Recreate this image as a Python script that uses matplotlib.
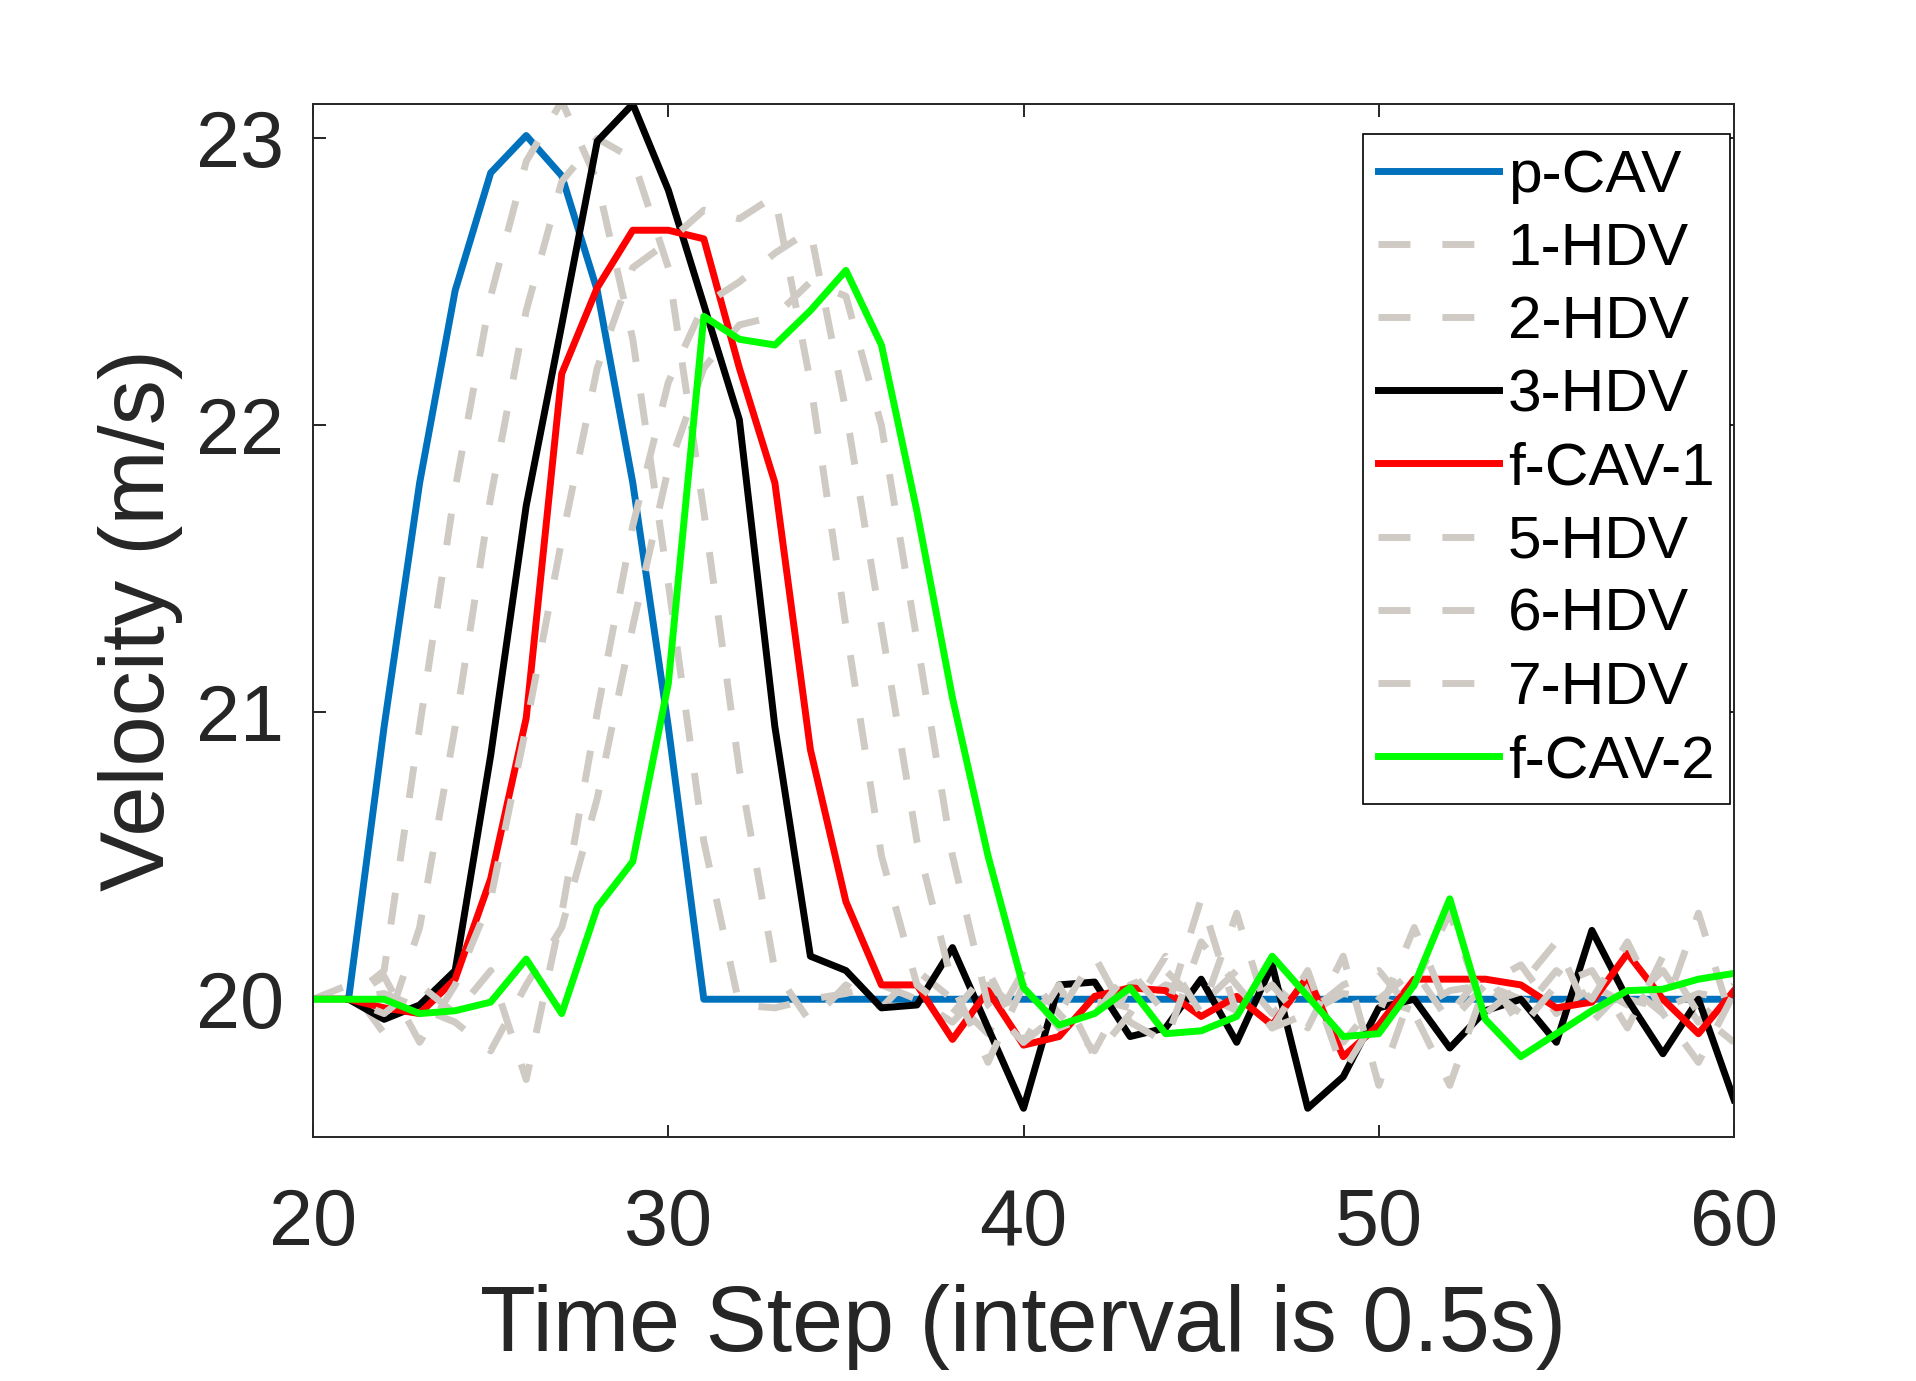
import numpy as np
import matplotlib
matplotlib.use("Agg")
import matplotlib.pyplot as plt

plt.rcParams['font.family'] = ['Liberation Sans', 'DejaVu Sans']
plt.rcParams['lines.scale_dashes'] = False

# time steps 20..60
steps = list(range(20, 61))

p_cav = [20.00, 20.00, 20.95, 21.80, 22.47, 22.88, 23.01, 22.87, 22.47, 21.80, 20.95, 20.00,
         20.00, 20.00, 20.00, 20.00, 20.00, 20.00, 20.00, 20.00, 20.00, 20.00, 20.00, 20.00,
         20.00, 20.00, 20.00, 20.00, 20.00, 20.00, 20.00, 20.00, 20.00, 20.00, 20.00, 20.00,
         20.00, 20.00, 20.00, 20.00, 20.00]

hdv_1 = [20.00, 20.00, 20.10, 20.95, 21.78, 22.45, 22.92, 23.13, 22.85, 22.30, 21.45, 20.55,
         19.98, 19.97, 20.00, 20.02, 20.05, 20.00, 19.92, 20.05, 19.95, 20.02, 20.00, 19.97,
         20.05, 20.02, 19.96, 20.05, 19.95, 20.02, 20.00, 19.96, 20.03, 20.05, 20.00, 19.96,
         20.04, 20.00, 19.97, 20.02, 20.00]

hdv_2 = [20.00, 20.05, 19.88, 20.25, 20.95, 21.75, 22.40, 22.85, 23.00, 22.93, 22.55, 21.70,
         20.80, 20.10, 19.92, 20.05, 19.97, 20.10, 20.00, 19.88, 20.10, 19.95, 19.82, 20.05,
         20.10, 19.98, 20.10, 19.95, 20.05, 19.85, 20.00, 20.10, 19.92, 20.05, 20.12, 19.95,
         20.05, 19.98, 20.10, 19.92, 20.05]

hdv_3 = [20.00, 20.00, 19.93, 19.98, 20.10, 20.85, 21.72, 22.35, 22.99, 23.12, 22.82, 22.42,
         22.02, 20.95, 20.15, 20.10, 19.97, 19.98, 20.18, 19.90, 19.62, 20.05, 20.06, 19.87,
         19.90, 20.07, 19.85, 20.12, 19.62, 19.73, 19.97, 20.00, 19.83, 19.96, 20.00, 19.85,
         20.24, 20.00, 19.81, 20.00, 19.65]

f_cav_1 = [20.00, 20.00, 19.97, 19.95, 20.07, 20.42, 20.98, 22.18, 22.48, 22.68, 22.68, 22.65,
           22.20, 21.80, 20.87, 20.34, 20.05, 20.05, 19.86, 20.03, 19.84, 19.87, 20.01, 20.04,
           20.03, 19.94, 20.01, 19.91, 20.08, 19.80, 19.91, 20.07, 20.07, 20.07, 20.05, 19.97,
           19.99, 20.16, 20.00, 19.88, 20.03]

hdv_5 = [20.00, 20.00, 20.08, 19.85, 20.05, 20.35, 20.95, 21.60, 22.20, 22.55, 22.64, 22.75,
         22.72, 22.80, 22.15, 21.30, 20.50, 20.05, 19.95, 20.10, 19.85, 19.95, 20.15, 19.92,
         19.85, 20.20, 20.05, 19.90, 20.10, 19.75, 19.95, 20.25, 19.95, 20.10, 19.90, 20.05,
         20.10, 19.90, 20.15, 19.95, 19.85]

hdv_6 = [20.00, 20.00, 19.95, 20.05, 19.95, 20.10, 19.72, 20.30, 21.00, 21.65, 22.15, 22.42,
         22.50, 22.60, 22.68, 22.05, 21.30, 20.55, 20.05, 19.78, 20.05, 19.90, 19.95, 20.10,
         19.95, 20.35, 19.95, 20.05, 19.90, 20.15, 19.70, 20.05, 20.30, 19.95, 20.05, 20.20,
         19.92, 20.05, 19.95, 20.30, 19.90]

hdv_7 = [20.00, 20.00, 20.02, 19.97, 19.92, 19.82, 20.05, 20.25, 20.70, 21.30, 21.85, 22.20,
         22.35, 22.38, 22.50, 22.45, 22.00, 21.25, 20.50, 19.98, 19.85, 20.05, 19.80, 19.95,
         20.15, 19.95, 20.30, 19.90, 19.95, 20.05, 20.10, 19.95, 19.70, 20.05, 19.95, 20.10,
         20.00, 20.20, 19.95, 19.78, 20.02]

f_cav_2 = [20.00, 20.00, 20.00, 19.95, 19.96, 19.99, 20.14, 19.95, 20.32, 20.48, 21.10, 22.38,
           22.30, 22.28, 22.40, 22.54, 22.28, 21.70, 21.05, 20.50, 20.04, 19.91, 19.95, 20.04,
           19.88, 19.89, 19.94, 20.15, 20.01, 19.87, 19.88, 20.05, 20.35, 19.93, 19.80, 19.88,
           19.96, 20.03, 20.035, 20.07, 20.09]

series = [
    ("p-CAV", p_cav, "#0072BD", "solid"),
    ("1-HDV", hdv_1, "#CFCBC4", "dash"),
    ("2-HDV", hdv_2, "#CFCBC4", "dash"),
    ("3-HDV", hdv_3, "#000000", "solid"),
    ("f-CAV-1", f_cav_1, "#FF0000", "solid"),
    ("5-HDV", hdv_5, "#CFCBC4", "dash"),
    ("6-HDV", hdv_6, "#CFCBC4", "dash"),
    ("7-HDV", hdv_7, "#CFCBC4", "dash"),
    ("f-CAV-2", f_cav_2, "#00FF00", "solid"),
]

fig = plt.figure(figsize=(19.16, 13.81), dpi=100)
ax = fig.add_axes([0.1634, 0.1767, 0.7416, 0.748])

for name, vals, col, style in series:
    if style == "dash":
        ax.plot(steps, vals, color=col, lw=5, dashes=(23, 23), label=name)
    else:
        ax.plot(steps, vals, color=col, lw=5, label=name)

ax.set_xlim(20, 60)
ax.set_ylim(19.52, 23.12)
ax.set_xticks([20, 30, 40, 50, 60])
ax.set_yticks([20, 21, 22, 23])

ax.tick_params(axis='both', direction='in', length=9, width=1.4, colors='#262626',
               labelsize=57, top=True, right=True)
ax.tick_params(axis='x', pad=36)
ax.tick_params(axis='y', pad=21)
for sp in ax.spines.values():
    sp.set_color('#262626')
    sp.set_linewidth(1.4)

ax.set_xlabel("Time Step (interval is 0.5s)", fontsize=66, color='#262626', labelpad=16)
ax.set_ylabel("Velocity (m/s)", fontsize=65, color='#262626', labelpad=9)

leg = ax.legend(loc='upper right', bbox_to_anchor=(0.997, 0.971), borderaxespad=0,
                fontsize=43.5, fancybox=False, framealpha=1, edgecolor='black',
                borderpad=0.25, labelspacing=0.30, handlelength=2.0, handletextpad=0.15)
leg.get_frame().set_linewidth(1.2)

fig.savefig("out.png", dpi=100)
